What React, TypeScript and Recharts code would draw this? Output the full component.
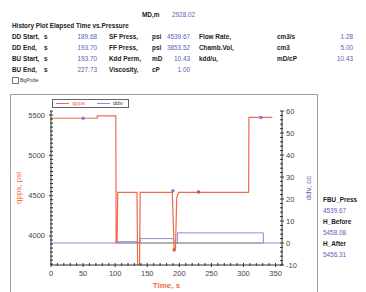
import React from 'react';
import { LineChart, Line, XAxis, YAxis, CartesianGrid, ReferenceLine, ReferenceDot } from 'recharts';

const pressTime = [0, 72, 72, 101, 101.5, 103, 104, 134, 135, 138, 139, 189, 192, 194, 196, 199, 308, 308.5, 345];
const pressValue = [5460, 5460, 5490, 5490, 3920, 3920, 4540, 4540, 3640, 3640, 4540, 4540, 3820, 3850, 4480, 4540, 4540, 5470, 5470];

const ddvTime = [0, 101, 101, 134, 134, 139, 139, 190, 193, 197, 197, 331, 331, 358];
const ddvValue = [0, 0, 0.6, 0.6, 0, 0, 2, 2, 0, 0, 4.6, 4.6, 0, 0];

const baseTime = [101, 331];
const baseValue = [0, 0];

const xLabels = [0, 50, 100, 150, 200, 250, 300, 350];
const leftLabels = [4000, 4500, 5000, 5500];
const rightLabels = [-10, 0, 10, 20, 30, 40, 50, 60];
const hGridValues = [3750, 4000, 4250, 4500, 4750, 5000, 5250, 5500];

const markerTime = [50, 190, 230, 192, 327];
const markerValue = [5460, 4560, 4545, 3830, 5470];
const markerColor = ['#8a7fc8', '#8a7fc8', '#b050a0', '#e85a3c', '#8a7fc8'];

const rowLabels1 = ['DD Start,', 'DD End,', 'BU Start,', 'BU End,'];
const rowUnits1 = ['s', 's', 's', 's'];
const rowValues1 = ['189.68', '193.70', '193.70', '227.73'];
const rowLabels2 = ['SF Press,', 'FF Press,', 'Kdd Perm,', 'Viscosity,'];
const rowUnits2 = ['psi', 'psi', 'mD', 'cP'];
const rowValues2 = ['4539.67', '3853.52', '10.43', '1.00'];
const rowLabels3 = ['Flow Rate,', 'Chamb.Vol,', 'kdd/u,'];
const rowUnits3 = ['cm3/s', 'cm3', 'mD/cP'];
const rowValues3 = ['1.28', '5.00', '10.43'];

const sideLabels = ['FBU_Press', 'H_Before', 'H_After'];
const sideValues = ['4539.67', '5458.08', '5456.31'];

const pressData = pressTime.map((t, i) => ({ t, qpps: pressValue[i] }));
const ddvData = ddvTime.map((t, i) => ({ t, ddv: ddvValue[i] }));
const baseData = baseTime.map((t, i) => ({ t, base: baseValue[i] }));

const range = (a: number, b: number, s: number) => {
  const out: number[] = [];
  for (let v = a; v <= b + 1e-9; v += s) out.push(Math.round(v * 100) / 100);
  return out;
};
const xTicks = range(0, 360, 10);
const leftTicks = range(3650, 5550, 50);
const rightTicks = range(-10, 60, 2);

const FONT = '"Liberation Sans", Arial, sans-serif';
const BLUE = '#5a62b8';
const ORANGE = '#ef6a4c';
const LAV = '#8c8ad8';
const FS = 6.4;

const XTick = (props: any) => {
  const { x, y, payload } = props;
  const major = xLabels.includes(payload.value);
  return (
    <g>
      <line x1={x} x2={x} y1={y - 2} y2={y + (major ? 2 : 1)} stroke="#333" strokeWidth={1} />
      {major && (
        <text x={x} y={y + 11} textAnchor="middle" fontSize={7.5} fill="#444" fontFamily={FONT}>
          {payload.value}
        </text>
      )}
    </g>
  );
};
const TopTick = (props: any) => {
  const { x, y } = props;
  return <line x1={x} x2={x} y1={y - 1} y2={y + 2} stroke="#444" strokeWidth={1} />;
};
const LeftTick = (props: any) => {
  const { x, y, payload } = props;
  const major = leftLabels.includes(payload.value);
  return (
    <g>
      <line x1={x - (major ? 2 : 1)} x2={x + 2} y1={y} y2={y} stroke="#333" strokeWidth={1} />
      {major && (
        <text x={x - 6} y={y + 2.5} textAnchor="end" fontSize={7.5} fill="#444" fontFamily={FONT}>
          {payload.value}
        </text>
      )}
    </g>
  );
};
const RightTick = (props: any) => {
  const { x, y, payload } = props;
  const major = rightLabels.includes(payload.value);
  return (
    <g>
      <line x1={x - 2} x2={x + (major ? 2 : 1)} y1={y} y2={y} stroke="#333" strokeWidth={1} />
      {major && (
        <text x={x + 4} y={y + 2.5} textAnchor="start" fontSize={7.5} fill="#444" fontFamily={FONT}>
          {payload.value}
        </text>
      )}
    </g>
  );
};

const abs = (left: number, top: number, extra: React.CSSProperties = {}): React.CSSProperties => ({
  position: 'absolute',
  left,
  top,
  fontFamily: FONT,
  fontSize: FS,
  lineHeight: '9px',
  whiteSpace: 'nowrap',
  ...extra,
});

const rowY = [32, 43, 54, 65];
const LBL: React.CSSProperties = { fontWeight: 'bold', color: '#222' };

export default function App() {
  return (
    <div style={{ position: 'absolute', left: 0, top: 0, width: 366, height: 292, background: '#fff', overflow: 'hidden' }}>
      <div style={abs(142, 10, LBL)}>MD,m</div>
      <div style={abs(172, 10, { color: BLUE })}>2928.02</div>
      <div style={abs(12, 21, LBL)}>History Plot Elapsed Time vs.Pressure</div>
      {rowLabels1.map((l, i) => (
        <React.Fragment key={'a' + i}>
          <div style={abs(12, rowY[i], LBL)}>{l}</div>
          <div style={abs(44, rowY[i], LBL)}>{rowUnits1[i]}</div>
          <div style={abs(57, rowY[i], { color: BLUE, width: 40, textAlign: 'right' })}>{rowValues1[i]}</div>
        </React.Fragment>
      ))}
      {rowLabels2.map((l, i) => (
        <React.Fragment key={'b' + i}>
          <div style={abs(109, rowY[i], LBL)}>{l}</div>
          <div style={abs(152, rowY[i], LBL)}>{rowUnits2[i]}</div>
          <div style={abs(150, rowY[i], { color: BLUE, width: 40, textAlign: 'right' })}>{rowValues2[i]}</div>
        </React.Fragment>
      ))}
      {rowLabels3.map((l, i) => (
        <React.Fragment key={'c' + i}>
          <div style={abs(199, rowY[i], LBL)}>{l}</div>
          <div style={abs(277, rowY[i], LBL)}>{rowUnits3[i]}</div>
          <div style={abs(313, rowY[i], { color: BLUE, width: 40, textAlign: 'right' })}>{rowValues3[i]}</div>
        </React.Fragment>
      ))}
      <div style={abs(12, 77, { width: 5, height: 5, border: '1px solid #777', background: '#fff' })} />
      <div style={abs(20, 76, { fontSize: 4.5, color: '#333' })}>BigProbe</div>

      <div style={{ position: 'absolute', left: 10, top: 94, width: 306, height: 210, border: '1px solid #a0a0a0' }} />

      {sideLabels.map((l, i) => (
        <React.Fragment key={'s' + i}>
          <div style={abs(323, 195 + i * 22, LBL)}>{l}</div>
          <div style={abs(323, 206 + i * 22, { color: BLUE })}>{sideValues[i]}</div>
        </React.Fragment>
      ))}

      <div style={{ position: 'absolute', left: 0, top: 0 }}>
        <LineChart width={366} height={292} margin={{ top: 111, right: 54, left: 11, bottom: 3 }}>
          {hGridValues.map((v) => (
            <ReferenceLine key={'h' + v} yAxisId="left" y={v} stroke="#c8c8c8" strokeDasharray="1 1" />
          ))}
          <CartesianGrid horizontal={false} vertical={true} stroke="#c8c8c8" strokeDasharray="1 1"
            verticalValues={xLabels.slice(1)} />
          <XAxis xAxisId="bottom" dataKey="t" type="number" domain={[0, 360]} ticks={xTicks}
            interval={0} allowDataOverflow height={24} tickSize={0} tickMargin={0} tick={<XTick />}
            axisLine={{ stroke: '#333' }} tickLine={false}
            label={{ value: 'Time, s', position: 'insideBottom', offset: 1, fill: ORANGE, fontSize: 8, fontWeight: 'bold', fontFamily: FONT }} />
          <XAxis xAxisId="top" orientation="top" dataKey="t" type="number" domain={[0, 360]} ticks={xTicks}
            interval={0} height={0} tickSize={0} tickMargin={0} tick={<TopTick />}
            axisLine={{ stroke: '#555' }} tickLine={false} />
          <YAxis yAxisId="left" type="number" domain={[3640, 5550]} ticks={leftTicks} interval={0}
            allowDataOverflow width={40} tickSize={0} tickMargin={0} tick={<LeftTick />}
            axisLine={{ stroke: '#333' }} tickLine={false}
            label={{ value: 'qpps, psi', angle: -90, position: 'insideLeft', offset: 7, fill: ORANGE, fontSize: 8, fontFamily: FONT, style: { textAnchor: 'middle' } }} />
          <YAxis yAxisId="right" orientation="right" type="number" domain={[-10, 60]} ticks={rightTicks}
            interval={0} allowDataOverflow width={30} tickSize={0} tickMargin={0} tick={<RightTick />}
            axisLine={{ stroke: '#333' }} tickLine={false}
            label={{ value: 'ddv, cc', angle: -90, position: 'insideRight', offset: 4, fill: BLUE, fontSize: 8, fontFamily: FONT, style: { textAnchor: 'middle' } }} />
          <Line data={baseData} xAxisId="bottom" yAxisId="right" dataKey="base" stroke="#666" strokeWidth={1.2}
            dot={false} isAnimationActive={false} type="linear" />
          <Line data={ddvData} xAxisId="bottom" yAxisId="right" dataKey="ddv" stroke={LAV} strokeWidth={1}
            dot={false} isAnimationActive={false} type="linear" />
          <Line data={pressData} xAxisId="bottom" yAxisId="left" dataKey="qpps" stroke={ORANGE} strokeWidth={1.2}
            dot={false} isAnimationActive={false} type="linear" />
          {markerTime.map((t, i) => (
            <ReferenceDot key={'m' + i} xAxisId="bottom" yAxisId="left" x={t} y={markerValue[i]} r={1.8}
              fill={markerColor[i]} stroke="none" />
          ))}
        </LineChart>
      </div>

      <div style={{ position: 'absolute', left: 52, top: 99, width: 75, height: 7, border: '1px solid #666', background: '#fff' }}>
        <div style={{ position: 'absolute', left: 3, top: 3, width: 13, height: 1, background: ORANGE }} />
        <div style={abs(19, -1, { fontSize: 6, lineHeight: '8px', color: ORANGE })}>qpps</div>
        <div style={{ position: 'absolute', left: 44, top: 3, width: 13, height: 1, background: LAV }} />
        <div style={abs(60, -1, { fontSize: 6, lineHeight: '8px', color: '#333' })}>ddv</div>
      </div>
    </div>
  );
}
